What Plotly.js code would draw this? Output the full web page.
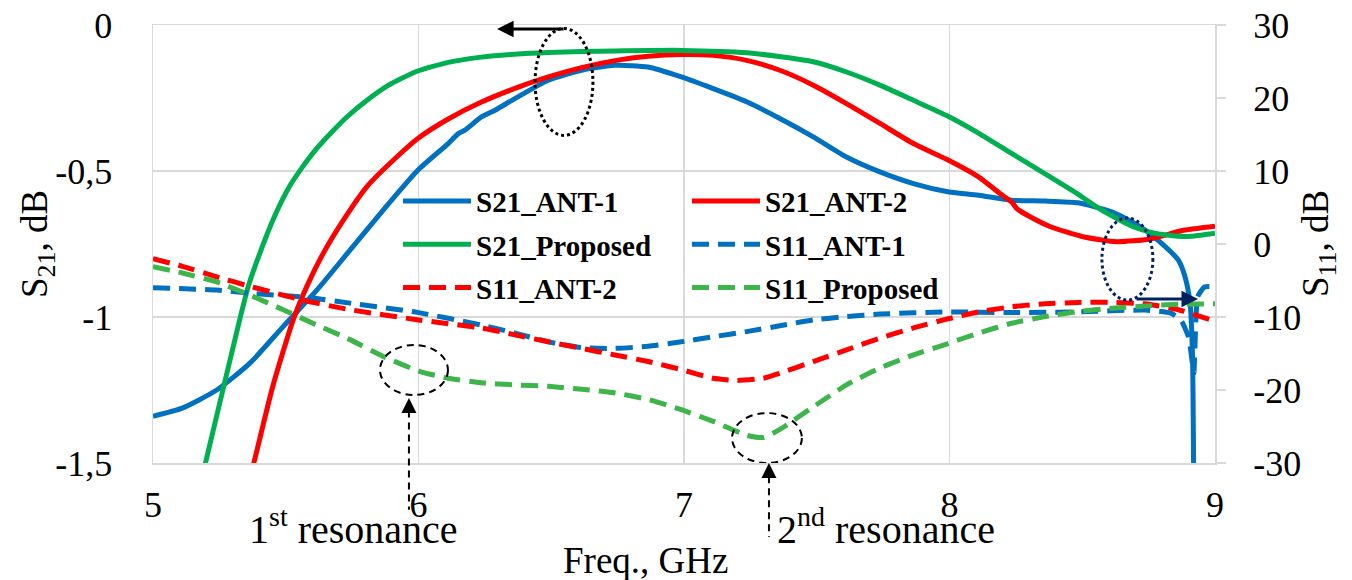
<!DOCTYPE html>
<html>
<head>
<meta charset="utf-8">
<script src="https://cdn.plot.ly/plotly-3.0.1.min.js"></script>
<style>
  html, body { margin: 0; padding: 0; background: #ffffff; }
  #chart { width: 1352px; height: 580px; }
</style>
</head>
<body>
<div id="chart"></div>
<script>
// ---- S21 (left axis, dB) ----
const freqS21Ant1 = [5.00, 5.11, 5.24, 5.365, 5.49, 5.617, 5.742, 5.867, 6.00, 6.112, 6.15, 6.175, 6.237, 6.288, 6.363, 6.489, 6.614, 6.74, 6.865, 6.99, 7.11, 7.236, 7.361, 7.487, 7.612, 7.738, 7.864, 7.989, 8.109, 8.234, 8.36, 8.485, 8.548, 8.611, 8.674, 8.736, 8.799, 8.862, 8.887, 8.906, 8.915, 8.92];
const s21Ant1     = [-1.340, -1.312, -1.250, -1.158, -1.033, -0.908, -0.771, -0.634, -0.495, -0.406, -0.372, -0.360, -0.315, -0.292, -0.252, -0.189, -0.155, -0.138, -0.144, -0.178, -0.218, -0.263, -0.320, -0.383, -0.452, -0.503, -0.543, -0.570, -0.583, -0.600, -0.603, -0.609, -0.623, -0.640, -0.668, -0.702, -0.748, -0.805, -0.862, -0.953, -1.124, -1.600];

const freqS21Ant2 = [5.37, 5.378, 5.451, 5.528, 5.579, 5.641, 5.717, 5.805, 5.924, 6.00, 6.112, 6.237, 6.363, 6.489, 6.614, 6.74, 6.865, 6.99, 7.11, 7.236, 7.361, 7.487, 7.612, 7.738, 7.864, 7.989, 8.109, 8.19, 8.235, 8.255, 8.30, 8.378, 8.504, 8.63, 8.755, 8.881, 9.00];
const s21Ant2     = [-1.530, -1.506, -1.238, -1.010, -0.896, -0.782, -0.668, -0.554, -0.447, -0.387, -0.322, -0.264, -0.217, -0.178, -0.146, -0.122, -0.107, -0.101, -0.104, -0.121, -0.155, -0.206, -0.269, -0.337, -0.406, -0.460, -0.520, -0.577, -0.607, -0.630, -0.655, -0.690, -0.725, -0.742, -0.733, -0.703, -0.689];

const freqS21Prop = [5.18, 5.196, 5.271, 5.325, 5.359, 5.403, 5.453, 5.516, 5.56, 5.61, 5.67, 5.73, 5.80, 5.886, 5.99, 6.112, 6.237, 6.36, 6.489, 6.74, 6.99, 7.236, 7.487, 7.612, 7.738, 7.864, 7.989, 8.109, 8.234, 8.36, 8.485, 8.552, 8.62, 8.692, 8.76, 8.818, 8.90, 9.00];
const s21Prop     = [-1.570, -1.506, -1.220, -1.015, -0.895, -0.780, -0.665, -0.550, -0.490, -0.430, -0.370, -0.315, -0.262, -0.207, -0.160, -0.128, -0.110, -0.100, -0.094, -0.089, -0.087, -0.095, -0.126, -0.161, -0.206, -0.258, -0.310, -0.370, -0.440, -0.510, -0.580, -0.622, -0.658, -0.691, -0.710, -0.719, -0.724, -0.713];

// ---- S11 (right axis, dB) ----
const freqS11Ant1 = [5.00, 5.24, 5.365, 5.58, 5.742, 6.00, 6.237, 6.363, 6.489, 6.614, 6.74, 6.865, 6.99, 7.11, 7.236, 7.361, 7.487, 7.612, 7.738, 7.989, 8.234, 8.485, 8.736, 8.836, 8.874, 8.90, 8.91, 8.92, 8.928, 8.935, 8.96, 9.00];
const s11Ant1     = [-6.0, -6.3, -6.75, -7.3, -8.1, -9.4, -11.1, -12.2, -13.4, -14.2, -14.3, -14.0, -13.4, -12.7, -12.0, -11.2, -10.4, -9.95, -9.6, -9.3, -9.4, -9.3, -9.05, -9.5, -10.6, -12.7, -15.0, -17.7, -10.4, -7.2, -5.9, -5.85];

const freqS11Ant2 = [5.00, 5.114, 5.24, 5.365, 5.566, 5.742, 6.00, 6.237, 6.363, 6.489, 6.614, 6.74, 6.865, 6.99, 7.11, 7.20, 7.30, 7.361, 7.487, 7.612, 7.738, 7.864, 7.989, 8.109, 8.234, 8.36, 8.485, 8.611, 8.736, 8.862, 9.00];
const s11Ant2     = [-2.0, -3.1, -4.5, -5.8, -7.7, -9.0, -10.4, -11.5, -12.45, -13.4, -14.3, -15.2, -16.1, -17.2, -18.4, -18.7, -18.4, -17.7, -16.1, -14.5, -12.9, -11.5, -10.3, -9.3, -8.6, -8.2, -8.0, -8.0, -8.2, -9.0, -10.6];

const freqS11Prop = [5.00, 5.114, 5.24, 5.365, 5.49, 5.617, 5.742, 5.867, 6.00, 6.112, 6.237, 6.363, 6.489, 6.614, 6.74, 6.865, 6.99, 7.11, 7.236, 7.30, 7.361, 7.487, 7.612, 7.738, 7.864, 7.989, 8.109, 8.234, 8.36, 8.485, 8.611, 8.736, 8.862, 9.00];
const s11Prop     = [-3.1, -4.0, -5.2, -7.0, -9.0, -11.1, -13.1, -15.4, -17.4, -18.4, -19.0, -19.3, -19.5, -19.9, -20.4, -21.3, -22.7, -24.3, -26.2, -26.5, -25.4, -22.3, -19.3, -17.0, -15.2, -13.7, -12.2, -10.85, -9.95, -9.25, -8.8, -8.5, -8.25, -8.2];

// ---- axis ticks ----
const freqTicks      = [5, 6, 7, 8, 9];
const freqTickText   = ['5', '6', '7', '8', '9'];
const s21Ticks       = [0, -0.5, -1, -1.5];
const s21TickText    = ['0', '-0,5', '-1', '-1,5'];
const s11Ticks       = [30, 20, 10, 0, -10, -20, -30];
const s11TickText    = ['30', '20', '10', '0', '-10', '-20', '-30'];

const SERIF = 'Liberation Serif';
const BLUE = '#0070C0', RED = '#FF0000', GREEN = '#00B050', GREEN_DASH = '#3DB54A';
const GRID = '#d9d9d9';
const LW = 5;
const DASH = '17px,9px';

function solid(x, y, name, color, legend) {
  return { x, y, name, type: 'scatter', mode: 'lines', yaxis: 'y', legend, legendgroup: name,
           line: { color, width: LW, shape: 'spline', smoothing: 0.6 } };
}
function dashed(x, y, name, color, legend) {
  return { x, y, name, type: 'scatter', mode: 'lines', yaxis: 'y2', legend, legendgroup: name,
           line: { color, width: LW, dash: DASH, shape: 'spline', smoothing: 0.5 } };
}

const traces = [
  solid(freqS21Ant1, s21Ant1, 'S21_ANT-1', BLUE, 'legend'),
  solid(freqS21Ant2, s21Ant2, 'S21_ANT-2', RED, 'legend2'),
  solid(freqS21Prop, s21Prop, 'S21_Proposed', GREEN, 'legend'),
  dashed(freqS11Ant1, s11Ant1, 'S11_ANT-1', BLUE, 'legend2'),
  dashed(freqS11Ant2, s11Ant2, 'S11_ANT-2', RED, 'legend'),
  dashed(freqS11Prop, s11Prop, 'S11_Proposed', GREEN_DASH, 'legend2')
];

const legendStyle = {
  yanchor: 'top', y: 0.656, xanchor: 'left',
  bgcolor: 'rgba(0,0,0,0)', borderwidth: 0,
  font: { family: SERIF, size: 29, weight: 'bold', color: '#000' },
  itemwidth: 68, traceorder: 'grouped', tracegroupgap: 2.5
};

const markDash = '7px,5px';
const shapes = [
  // dotted ellipse on the S21 curves, pointing to the left axis
  { type: 'circle', xref: 'x', yref: 'y', x0: 6.439, x1: 6.657, y0: -0.012, y1: -0.378,
    line: { color: '#000', width: 3, dash: 'dot' } },
  // dotted ellipse near 8.7 GHz, pointing to the right axis
  { type: 'circle', xref: 'x', yref: 'y', x0: 8.574, x1: 8.766, y0: -0.661, y1: -0.942,
    line: { color: '#002060', width: 3, dash: 'dot' } },
  // first resonance marker
  { type: 'circle', xref: 'x', yref: 'y', x0: 5.855, x1: 6.111, y0: -1.096, y1: -1.267,
    line: { color: '#000', width: 2, dash: markDash } },
  { type: 'line', xref: 'x', yref: 'paper', x0: 5.964, x1: 5.964, y0: 0.12, y1: -0.107,
    line: { color: '#000', width: 2, dash: markDash } },
  // second resonance marker
  { type: 'circle', xref: 'x', yref: 'y', x0: 7.181, x1: 7.444, y0: -1.329, y1: -1.5,
    line: { color: '#000', width: 2, dash: markDash } },
  { type: 'line', xref: 'x', yref: 'paper', x0: 7.32, x1: 7.32, y0: -0.03, y1: -0.169,
    line: { color: '#000', width: 2, dash: markDash } }
];

const annotations = [
  // axis pointers
  { xref: 'x', yref: 'y', x: 6.296, y: -0.0137, ax: 68, ay: 0, text: '', showarrow: true,
    arrowhead: 2, arrowsize: 1.1, arrowwidth: 3, arrowcolor: '#000' },
  { xref: 'x', yref: 'y', x: 8.936, y: -0.938, ax: -63, ay: 0, text: '', showarrow: true,
    arrowhead: 2, arrowsize: 1.1, arrowwidth: 3, arrowcolor: '#002060' },
  // resonance arrow heads
  { xref: 'x', yref: 'y', x: 5.964, y: -1.277, ax: 0, ay: 15, text: '', showarrow: true,
    arrowhead: 2, arrowsize: 1.5, arrowwidth: 2, arrowcolor: '#000' },
  { xref: 'x', yref: 'y', x: 7.32, y: -1.5, ax: 0, ay: 15, text: '', showarrow: true,
    arrowhead: 2, arrowsize: 1.5, arrowwidth: 2, arrowcolor: '#000' },
  // resonance labels
  { xref: 'paper', yref: 'paper', x: 0.0885, y: -0.146, xanchor: 'left', yanchor: 'middle',
    text: '1<sup>st</sup> resonance', showarrow: false,
    font: { family: SERIF, size: 40, color: '#000' } },
  { xref: 'paper', yref: 'paper', x: 0.5857, y: -0.146, xanchor: 'left', yanchor: 'middle',
    text: '2<sup>nd</sup> resonance', showarrow: false,
    font: { family: SERIF, size: 40, color: '#000' } },
  // axis titles
  { xref: 'paper', yref: 'paper', x: 0.4633, y: -0.222, xanchor: 'center', yanchor: 'middle',
    text: 'Freq., GHz', showarrow: false,
    font: { family: SERIF, size: 37, color: '#000' } },
  { xref: 'paper', yref: 'paper', x: -0.1092, y: 0.5, xanchor: 'center', yanchor: 'middle',
    textangle: -90, text: 'S<sub>21</sub>, dB', showarrow: false,
    font: { family: SERIF, size: 37, color: '#000' } },
  { xref: 'paper', yref: 'paper', x: 1.097, y: 0.5, xanchor: 'center', yanchor: 'middle',
    textangle: -90, text: 'S<sub>11</sub>, dB', showarrow: false,
    font: { family: SERIF, size: 37, color: '#000' } }
];

const layout = {
  width: 1352, height: 580,
  margin: { l: 153, r: 137, t: 25, b: 117, pad: 0 },
  paper_bgcolor: '#ffffff', plot_bgcolor: '#ffffff',
  showlegend: true,
  font: { family: SERIF, color: '#000' },
  xaxis: {
    range: [5, 9], tickvals: freqTicks, ticktext: freqTickText,
    showgrid: true, gridcolor: GRID, gridwidth: 1.5,
    showline: true, linecolor: GRID, linewidth: 1.5, mirror: true,
    zeroline: false, ticks: '', ticklabelstandoff: 9,
    tickfont: { family: SERIF, size: 36, color: '#000' }
  },
  yaxis: {
    range: [-1.5, 0], tickvals: s21Ticks, ticktext: s21TickText,
    showgrid: true, gridcolor: GRID, gridwidth: 1.5,
    showline: true, linecolor: GRID, linewidth: 1.5, mirror: true,
    zeroline: false, ticks: '', ticklabelstandoff: 32,
    tickfont: { family: SERIF, size: 36, color: '#000' }
  },
  yaxis2: {
    overlaying: 'y', side: 'right', range: [-30, 30],
    tickvals: s11Ticks, ticktext: s11TickText,
    showgrid: false, zeroline: false, showline: false,
    ticks: 'outside', ticklen: 10, tickwidth: 1.5, tickcolor: GRID, ticklabelstandoff: 20,
    tickfont: { family: SERIF, size: 36, color: '#000' }
  },
  legend: Object.assign({}, legendStyle, { x: 0.2307 }),
  legend2: Object.assign({}, legendStyle, { x: 0.5028 }),
  shapes, annotations
};

Plotly.newPlot('chart', traces, layout, { displayModeBar: false, staticPlot: true });
</script>
</body>
</html>
